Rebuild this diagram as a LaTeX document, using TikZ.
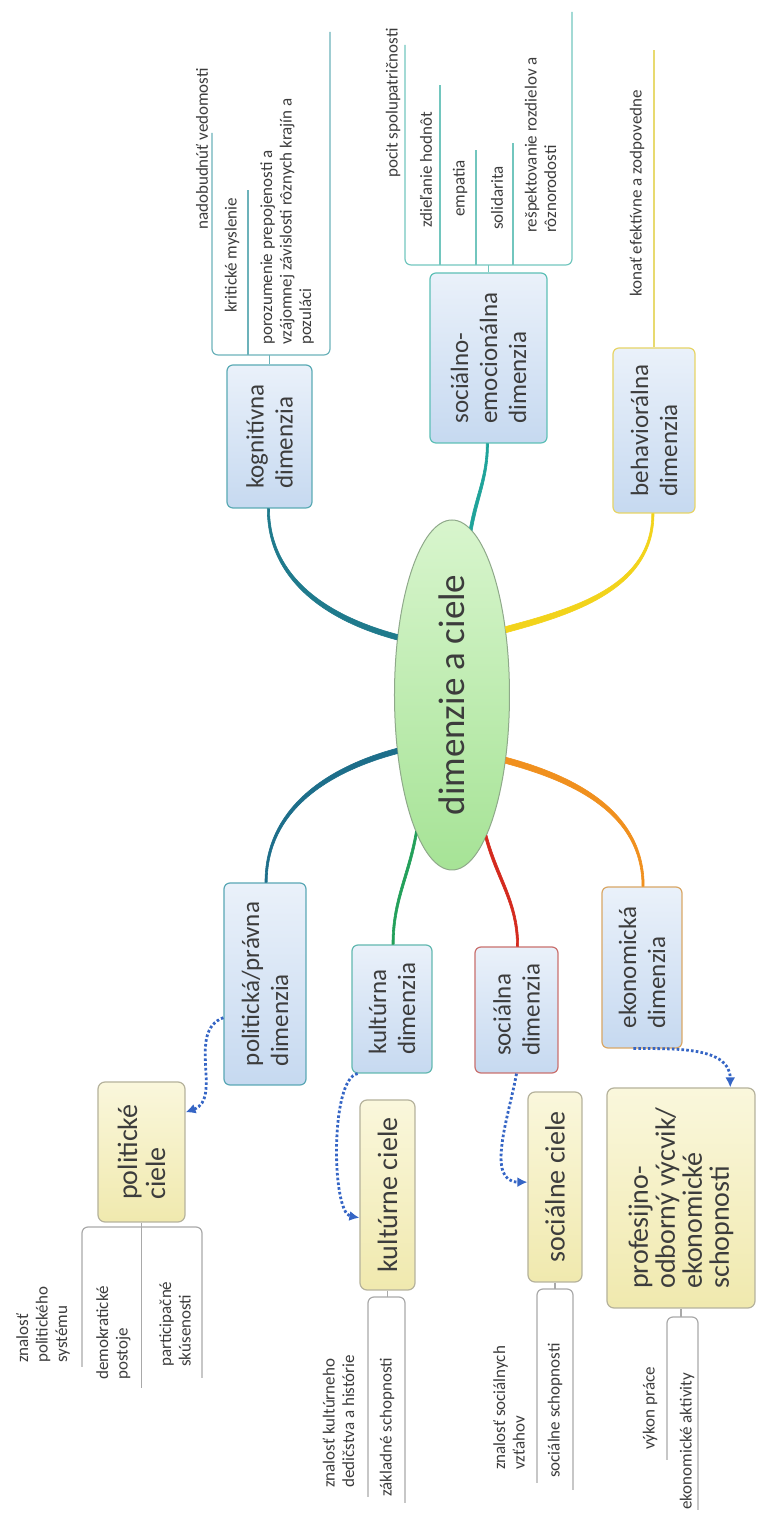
\documentclass[tikz,border=0pt]{standalone}
\usepackage{fontspec}
\setmainfont{Carlito}
\usetikzlibrary{shapes, arrows.meta, positioning}
\definecolor{ink}{HTML}{3C3C3C}
\definecolor{eltop}{HTML}{D8F5CD}
\definecolor{elbot}{HTML}{A6E396}
\definecolor{elline}{HTML}{8FA98A}
\definecolor{dimtop}{HTML}{EAF1FA}
\definecolor{dimbot}{HTML}{C6D9F0}
\definecolor{goaltop}{HTML}{FAF7DC}
\definecolor{goalbot}{HTML}{F0E9AE}
\definecolor{goalline}{HTML}{B5B29C}
\definecolor{goaltwig}{HTML}{A9A9A9}
\definecolor{arrowc}{HTML}{3565C5}
\definecolor{kogc}{HTML}{1F7A8C}
\definecolor{socioc}{HTML}{1FA39A}
\definecolor{behc}{HTML}{F2D31B}
\definecolor{polc}{HTML}{1D6E8A}
\definecolor{kulc}{HTML}{23A05A}
\definecolor{socc}{HTML}{D42A1E}
\definecolor{ekoc}{HTML}{F0901E}
\definecolor{kogedge}{HTML}{5AAAB4}
\definecolor{socioedge}{HTML}{5DBFB6}
\definecolor{behedge}{HTML}{E6D466}
\definecolor{poledge}{HTML}{5AA7B5}
\definecolor{kuledge}{HTML}{62B8B0}
\definecolor{socedge}{HTML}{C9706E}
\definecolor{ekoedge}{HTML}{D9A766}
\definecolor{kogtwig}{HTML}{6CB2BA}
\definecolor{sociotwig}{HTML}{72C6BE}
\definecolor{behtwig}{HTML}{E8DA70}
\tikzstyle{centre} = [ellipse, draw=elline, line width=1pt, top color=eltop, bottom color=elbot, minimum width=350pt, minimum height=115pt, inner sep=0pt, text=ink, font=\fontsize{37}{40}\selectfont]
\tikzstyle{dimbox} = [draw, rectangle, rounded corners=6pt, line width=1.2pt, top color=dimtop, bottom color=dimbot, inner sep=0pt, align=left, text=ink, font=\fontsize{25}{29}\selectfont]
\tikzstyle{goalbox} = [draw=goalline, rectangle, rounded corners=7pt, line width=1.2pt, top color=goaltop, bottom color=goalbot, inner sep=0pt, align=left, text=ink, font=\fontsize{28}{28}\selectfont]
\tikzstyle{leaf} = [anchor=west, inner sep=0pt, align=left, text=ink, font=\fontsize{17}{19.5}\selectfont]
\tikzstyle{branch} = [line width=0.6pt, line join=round]
\tikzstyle{twig} = [line width=1.2pt, rounded corners=6pt]
\tikzstyle{goallink} = [draw=arrowc, line width=2.8pt, dash pattern=on 2.6pt off 2.2pt, -{Latex[length=10pt,width=10pt]}]

\begin{document}
\begin{tikzpicture}[x=1pt, y=1pt, rotate=90, transform shape]
    \useasboundingbox (0,0) rectangle (1513,759);

    \node[centre] (dc) at (818,307) {dimenzie a ciele};

    % dimensions
    \node[dimbox, draw=kogedge, minimum width=143pt, minimum height=85pt] (kog) at (1076.5,489.5) {kognitívna\\dimenzia};
    \node[dimbox, draw=socioedge, minimum width=170pt, minimum height=117pt] (socio) at (1155,270.5) {sociálno-\\emocionálna\\dimenzia};
    \node[dimbox, draw=behedge, minimum width=165pt, minimum height=82pt] (beh) at (1082.5,105) {behaviorálna\\dimenzia};
    \node[dimbox, draw=poledge, minimum width=202pt, minimum height=82pt] (pol) at (529,494) {politická/právna\\dimenzia};
    \node[dimbox, draw=kuledge, minimum width=128pt, minimum height=80pt] (kul) at (504,367) {kultúrna\\dimenzia};
    \node[dimbox, draw=socedge, minimum width=126pt, minimum height=83pt] (soc) at (503,242.5) {sociálna\\dimenzia};
    \node[dimbox, draw=ekoedge, minimum width=161pt, minimum height=80pt] (eko) at (545.5,117) {ekonomická\\dimenzia};

    % goals
    \node[goalbox, minimum width=140pt, minimum height=87pt] (polcie) at (361,617.5) {politické\\ciele};
    \node[goalbox, minimum width=190pt, minimum height=55pt] (kulcie) at (318,371.5) {kultúrne ciele};
    \node[goalbox, minimum width=190pt, minimum height=54pt] (soccie) at (326,204) {sociálne ciele};
    \node[goalbox, minimum width=220pt, minimum height=148pt, font=\fontsize{28}{27}\selectfont] (ekocie) at (315,78) {profesijno-\\odborný výcvik/\\ekonomické\\schopnosti};

    \filldraw[branch, kogc] (dc.42.5) to[out=75, in=180] (kog.west) -- ++(0,2.2) to[out=180, in=75] (dc.45.5) -- cycle;
    \filldraw[branch, socioc] (dc.-7.8) to[out=-10, in=180] (socio.west) -- ++(0,2.2) to[out=180, in=-10] (dc.-6.2) -- cycle;
    \filldraw[branch, behc] (dc.-41.5) to[out=-75, in=180] (beh.west) -- ++(0,2.2) to[out=180, in=-75] (dc.-38.5) -- cycle;
    \filldraw[branch, polc] (dc.134.5) to[out=105, in=0] (pol.east) -- ++(0,-2.2) to[out=0, in=105] (dc.137.5) -- cycle;
    \filldraw[branch, kulc] (dc.165.2) to[out=170, in=0] (kul.east) -- ++(0,-2.2) to[out=0, in=170] (dc.166.8) -- cycle;
    \filldraw[branch, socc] (dc.193.2) to[out=195, in=0] (soc.east) -- ++(0,-2.2) to[out=0, in=195] (dc.194.8) -- cycle;
    \filldraw[branch, ekoc] (dc.218.5) to[out=-105, in=0] (eko.east) -- ++(0,-2.2) to[out=0, in=-105] (dc.221.5) -- cycle;

    \draw[goallink] (pol.129) to[out=110, in=-70] (polcie.-48);
    \draw[goallink] (kul.152) to[out=100, in=80, looseness=0.5] (kulcie.129);
    \draw[goallink] (soc.west) to[out=170, in=90] (soccie.80);
    \draw[goallink] (eko.174) to[out=-90, in=0] (ekocie.-24);

    % leaves
    \node[leaf] (kog1) at (1283,557) {nadobudnúť vedomosti};
    \node[leaf] (kog2) at (1200,527) {kritické myslenie};
    \node[leaf] (kog3) at (1168,472) {porozumenie prepojenosti a\\vzájomnej závislosti rôznych krajín a\\pozuláci};
    \draw[twig, kogtwig] (kog.east) -- (1158,489.5);
    \draw[twig, kogtwig] (1380,547) -- (1158,547) -- (1158,429) -- (1481,429);
    \draw[twig, kogtwig] (1158,511) -- (1323,511);

    \node[leaf] (socio1) at (1335,366) {pocit spolupatričnosti};
    \node[leaf] (socio2) at (1285,333) {zdieľanie hodnôt};
    \node[leaf] (socio3) at (1296,299) {empatia};
    \node[leaf] (socio4) at (1283,262) {solidarita};
    \node[leaf] (socio5) at (1280,218.5) {rešpektovanie rozdielov a\\rôznorodosti};
    \draw[twig, sociotwig] (socio.east) -- (1248,270.5);
    \draw[twig, sociotwig] (1468,354) -- (1248,354) -- (1248,187) -- (1501,187);
    \draw[twig, sociotwig] (1248,319) -- (1428,319);
    \draw[twig, sociotwig] (1248,283) -- (1363,283);
    \draw[twig, sociotwig] (1248,246) -- (1370,246);

    \node[leaf] (beh1) at (1216,122) {konať efektívne a zodpovedne};
    \draw[twig, behtwig] (beh.east) -- (1463,105);

    \node[leaf] (polcie1) at (150,716) {znalosť\\politického\\systému};
    \node[leaf] (polcie2) at (133,645.5) {demokratické\\postoje};
    \node[leaf] (polcie3) at (146,584) {participačné\\skúsenosti};
    \draw[twig, goaltwig] (146,677) -- (286,677) -- (286,557) -- (135,557);
    \draw[twig, goaltwig] (polcie.west) -- (125,617.5);

    \node[leaf] (kulcie1) at (25,420.5) {znalosť kultúrneho\\dedičstva a histórie};
    \node[leaf] (kulcie2) at (16,372) {základné schopnosti};
    \draw[twig, goaltwig] (16,391) -- (216,391) -- (216,354) -- (10,354);
    \draw[twig, goaltwig] (kulcie.west) -- (216,371.5);

    \node[leaf] (soccie1) at (43,250) {znalosť sociálnych\\vzťahov};
    \node[leaf] (soccie2) at (35,204) {sociálne schopnosti};
    \draw[twig, goaltwig] (30,222) -- (224,222) -- (224,186) -- (23,186);
    \draw[twig, goaltwig] (soccie.west) -- (224,204);

    \node[leaf] (ekocie1) at (63,109) {výkon práce};
    \node[leaf] (ekocie2) at (3,72) {ekonomické aktivity};
    \draw[twig, goaltwig] (53,92) -- (196,92) -- (196,61) -- (3,61);
    \draw[twig, goaltwig] (ekocie.west) -- (196,78);
\end{tikzpicture}
\end{document}
